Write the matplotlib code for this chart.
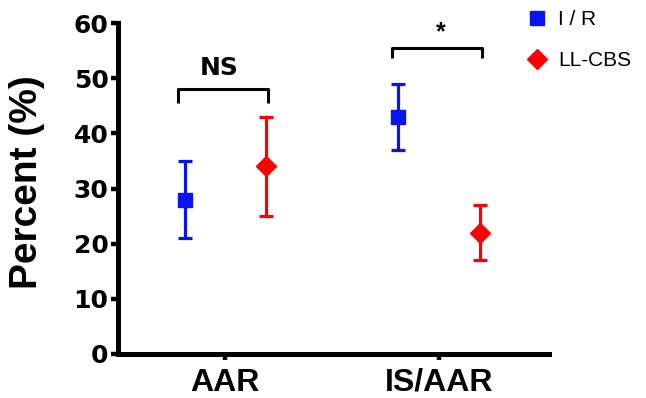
import matplotlib
matplotlib.use("Agg")
import matplotlib.pyplot as plt
from matplotlib.lines import Line2D
import numpy as np

categories = ["AAR", "IS/AAR"]
series_names = ["I / R", "LL-CBS"]
ir_mean = [28, 43]
ir_low = [21, 37]
ir_high = [35, 49]
ll_mean = [34, 22]
ll_low = [25, 17]
ll_high = [43, 27]
yticks = [0, 10, 20, 30, 40, 50, 60]
sig_labels = ["NS", "*"]

plt.rcParams['font.family'] = ['Liberation Sans', 'DejaVu Sans']

fig = plt.figure(figsize=(6.46, 3.98), dpi=100)
ax = fig.add_axes([0.183, 0.1106, 0.667, 0.8314])

x = np.arange(len(categories))
off = 0.19
blue = '#0a14f0'
red = '#ff0000'

def draw(xpos, mean, low, high, color, marker, ms):
    mean = np.array(mean); low = np.array(low); high = np.array(high)
    ax.errorbar(xpos, mean, yerr=[mean - low, high - mean], fmt=marker, color=color,
                ecolor=color, elinewidth=2.3, capsize=5.2, capthick=2.3,
                markersize=ms, clip_on=False, zorder=3)

draw(x - off, ir_mean, ir_low, ir_high, blue, 's', 10)
draw(x + off, ll_mean, ll_low, ll_high, red, 'D', 10)

ax.set_xlim(-0.5, 1.515)
ax.set_ylim(0, 60)
ax.set_yticks(yticks)
ax.set_xticks(x)
ax.set_xticklabels(categories, fontsize=23, fontweight='bold')
ax.set_yticklabels([str(v) for v in yticks], fontsize=18, fontweight='bold',
                   family='DejaVu Sans')
ax.set_ylabel("Percent (%)", fontsize=28, fontweight='bold')
ax.yaxis.set_label_coords(-0.17, 0.52)

for s in ['top', 'right']:
    ax.spines[s].set_visible(False)
for s in ['left', 'bottom']:
    ax.spines[s].set_linewidth(3.6)
ax.tick_params(axis='y', direction='out', length=5, width=3.2, pad=2)
ax.tick_params(axis='x', direction='out', length=4, width=3.2, pad=6)

# significance brackets
bracket_y = [48, 55.4]
bracket_h = [2.5, 1.8]
for i in range(len(categories)):
    x0 = x[i] - off - 0.03
    x1 = x[i] + off + 0.01
    y = bracket_y[i]
    h = bracket_h[i]
    ax.plot([x0, x0, x1, x1], [y - h, y, y, y - h], color='black', lw=2.2,
            clip_on=False, solid_capstyle='butt')
    if sig_labels[i] == "*":
        ax.text((x0 + x1) / 2 + 0.02, y + 0.8, sig_labels[i], ha='center', va='bottom',
                fontsize=18, fontweight='bold')
    else:
        ax.text((x0 + x1) / 2 - 0.02, y + 1.6, sig_labels[i], ha='center', va='bottom',
                fontsize=18, fontweight='bold', family='DejaVu Sans')

handles = [Line2D([], [], ls='none', marker='s', color=blue, markersize=10),
           Line2D([], [], ls='none', marker='D', color=red, markersize=10)]
leg = ax.legend(handles, series_names, loc='upper left', bbox_to_anchor=(0.905, 1.095),
                frameon=False, fontsize=15, handletextpad=0.5, labelspacing=1.05,
                handlelength=1.0)

fig.savefig("out.png", dpi=100)
